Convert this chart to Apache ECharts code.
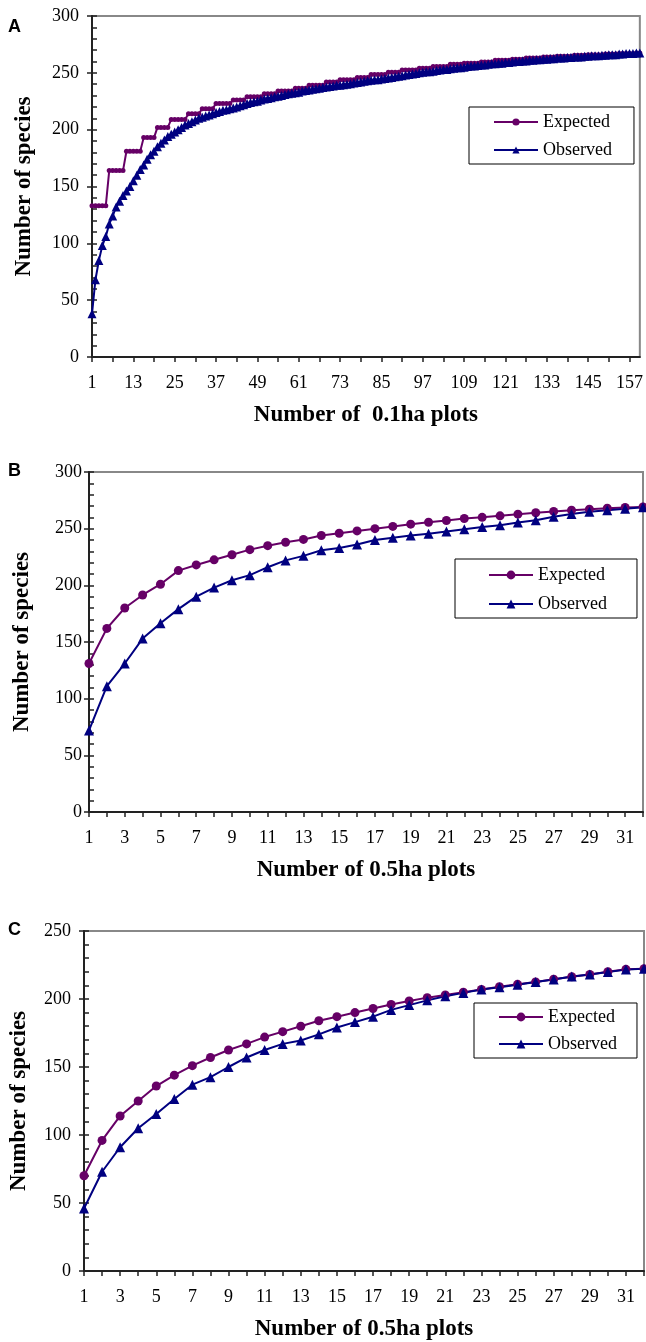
<!DOCTYPE html>
<html>
<head>
<meta charset="utf-8">
<script src="https://cdn.jsdelivr.net/npm/echarts@6/dist/echarts.min.js"></script>
<style>
  html, body { margin: 0; padding: 0; background: #fff; }
  #main { width: 646px; height: 1342px; }
</style>
</head>
<body>
<div id="main"></div>
<script>
// panel A: 160 plots of 0.1 ha
var plotsA = [];
for (var i = 1; i <= 160; i++) plotsA.push(String(i));
var expectedA = [
  133,133,133,133,133, 164,164,164,164,164, 181,181,181,181,181, 193,193,193,193,
  202,202,202,202, 209,209,209,209,209, 214,214,214,214, 218.5,218.5,218.5,218.5,
  223,223,223,223,223, 226,226,226,226, 229,229,229,229,229, 231.5,231.5,231.5,231.5,
  234,234,234,234,234, 236.5,236.5,236.5,236.5, 239,239,239,239,239, 242,242,242,242,
  244,244,244,244,244, 246,246,246,246, 248.5,248.5,248.5,248.5,248.5, 250.5,250.5,250.5,250.5,
  252.5,252.5,252.5,252.5,252.5, 254,254,254,254, 255.5,255.5,255.5,255.5,255.5, 257.5,257.5,257.5,257.5,
  258.5,258.5,258.5,258.5,258.5, 259.5,259.5,259.5,259.5, 261,261,261,261,261, 262,262,262,262,
  263,263,263,263,263, 264,264,264,264, 264.5,264.5,264.5,264.5,264.5, 265.5,265.5,265.5,265.5,
  266,266,266,266,266, 266.5,266.5,266.5,266.5, 267,267,267,267,267, 267.5,267.5
];
var observedA = [
  38,68,85,98,106,117,124,132,137,142,
  146,150,155,160,165,169,174,178,181,185,
  188,191,194,196,198,200,202,204,205.5,207,
  208.5,210,211,212,213,214,215,216,217,217.5,
  218.5,219,220,221,222,223,224,224.5,225,226,
  227,227.5,228,229,229.5,230,231,231.5,232,232.5,
  233,234,234.5,235,235.5,236,236.5,237,237.5,238,
  238.5,239,239,239.5,240,240.5,241,241.5,242,242.5,
  243,243.5,244,244,244.5,245,245.5,246,246.5,247,
  247.5,248,248.5,249,249.5,250,250.5,251,251,251.5,
  252,252.5,253,253,253.5,254,254.5,254.5,255,255.5,
  256,256,256.5,257,257,257.5,258,258,258.5,258.5,
  259,259,259.5,260,260,260.5,260.5,261,261,261.5,
  261.5,262,262,262.5,262.5,263,263,263,263.5,263.5,
  264,264,264,264.5,264.5,265,265,265,265.5,265.5,
  266,266,266,266.5,266.5,267,267,267,267.5,267.5
];

// panels B and C: 32 plots of 0.5 ha
var plotsB = [];
for (var j = 1; j <= 32; j++) plotsB.push(String(j));
var expectedB = [131,162,180,191.5,201,213,218,222.5,227,231.5,235,238,240.5,244,246,248,
  250,252,254,255.7,257.2,259,260,261.3,262.8,264,265.2,266.3,267.2,268,268.7,269.2];
var observedB = [72,111,131,153,166.5,179,190,198,204.5,209,216,222,226,231,233,236,
  240,242,244,245.5,247.5,249.5,251.5,253,255.5,257.5,260.5,263,265,266.3,267.5,268.8];
var expectedC = [70,96,114,125,136,144,151,157,162.5,167,172,176,180,184,187,190,
  193,196,198.5,201,203,205,207,209,210.8,212.5,214.5,216.4,218,220,221.8,222.3];
var observedC = [46,73,91,105,115.5,126.5,137,142.5,150,157,162.5,167,169.5,174,179,183,
  187,192,195.5,199,202,204.5,207,208.7,210.5,212.5,214.3,216.5,218,219.8,221.6,222.3];

var serif = "'Times New Roman', 'Liberation Serif', serif";
var purple = '#660066';
var navy = '#000080';
var axisColor = '#222';

function xAxis(grid, data, tickInt, labelInt, name) {
  return {
    type: 'category', gridIndex: grid, data: data, boundaryGap: false,
    axisLine: { lineStyle: { color: axisColor, width: 2 } },
    axisTick: { interval: tickInt, length: 5, lineStyle: { color: axisColor, width: 1.5 } },
    axisLabel: { interval: labelInt, margin: 17, color: '#000', fontFamily: serif, fontSize: 18 },
    name: name, nameLocation: 'middle', nameGap: 47,
    nameTextStyle: { color: '#000', fontFamily: serif, fontSize: 23, fontWeight: 'bold' }
  };
}
function yAxis(grid, max, margin, gap) {
  return {
    type: 'value', gridIndex: grid, min: 0, max: max, interval: 50,
    axisLine: { show: true, lineStyle: { color: axisColor, width: 2 } },
    axisTick: { show: true, length: 5, lineStyle: { color: axisColor, width: 1.5 } },
    axisLabel: { margin: margin, color: '#000', fontFamily: serif, fontSize: 18 },
    splitLine: { show: false },
    name: 'Number of species', nameLocation: 'middle', nameGap: gap, nameRotate: 90,
    nameTextStyle: { color: '#000', fontFamily: serif, fontSize: 23, fontWeight: 'bold' }
  };
}
// second axis only for the inner minor ticks
function yMinor(grid, max) {
  return {
    type: 'value', gridIndex: grid, min: 0, max: max, interval: 10, position: 'left',
    axisLine: { show: false },
    axisTick: { show: true, inside: true, length: 5, lineStyle: { color: axisColor, width: 1.5 } },
    axisLabel: { show: false },
    splitLine: { show: false }
  };
}
function legend(left, top, padding, gap, h) {
  return {
    data: ['Expected', 'Observed'], orient: 'vertical', left: left, top: top,
    padding: padding, itemGap: gap, itemWidth: 44, itemHeight: h,
    borderColor: '#000', borderWidth: 1, backgroundColor: '#fff',
    textStyle: { color: '#000', fontFamily: serif, fontSize: 18 }
  };
}
function line(name, x, y, data, sym, size, color) {
  return {
    name: name, type: 'line', xAxisIndex: x, yAxisIndex: y, data: data,
    symbol: sym, symbolSize: size, showAllSymbol: true, clip: false,
    itemStyle: { color: color }, lineStyle: { color: color, width: 2 }
  };
}

var chart = echarts.init(document.getElementById('main'));
var option = {
  animation: false,
  backgroundColor: '#fff',
  grid: [
    { left: 92, top: 16, width: 548, height: 341, show: true, borderColor: '#888', borderWidth: 2 },
    { left: 89, top: 472, width: 554, height: 340, show: true, borderColor: '#888', borderWidth: 2 },
    { left: 83, top: 931, width: 561, height: 340, show: true, borderColor: '#888', borderWidth: 2 }
  ],
  xAxis: [
    xAxis(0, plotsA, 5, 11, 'Number of  0.1ha plots'),
    xAxis(1, plotsB, 0, 1, 'Number of 0.5ha plots'),
    xAxis(2, plotsB, 0, 1, 'Number of 0.5ha plots')
  ],
  yAxis: [
    yAxis(0, 300, 13, 56), yMinor(0, 300),
    yAxis(1, 300, 7, 55), yMinor(1, 300),
    yAxis(2, 250, 13, 53), yMinor(2, 250)
  ],
  legend: [
    legend(469, 107, [6, 22, 5, 24], 10, 9),
    legend(455, 559, [7, 30, 5, 33], 11, 11),
    legend(474, 1003, [5, 20, 5, 24], 9, 11)
  ],
  graphic: [
    { type: 'text', left: 8, top: 18, style: { text: 'A', font: 'bold 18px Arial, Liberation Sans, sans-serif', fill: '#000' } },
    { type: 'text', left: 8, top: 462, style: { text: 'B', font: 'bold 18px Arial, Liberation Sans, sans-serif', fill: '#000' } },
    { type: 'text', left: 8, top: 921, style: { text: 'C', font: 'bold 18px Arial, Liberation Sans, sans-serif', fill: '#000' } }
  ],
  series: [
    line('Expected', 0, 0, expectedA, 'circle', 5, purple),
    line('Observed', 0, 0, observedA, 'triangle', 9, navy),
    line('Expected', 1, 2, expectedB, 'circle', 9, purple),
    line('Observed', 1, 2, observedB, 'triangle', 10, navy),
    line('Expected', 2, 4, expectedC, 'circle', 9, purple),
    line('Observed', 2, 4, observedC, 'triangle', 10, navy)
  ]
};
chart.setOption(option);
</script>
</body>
</html>
